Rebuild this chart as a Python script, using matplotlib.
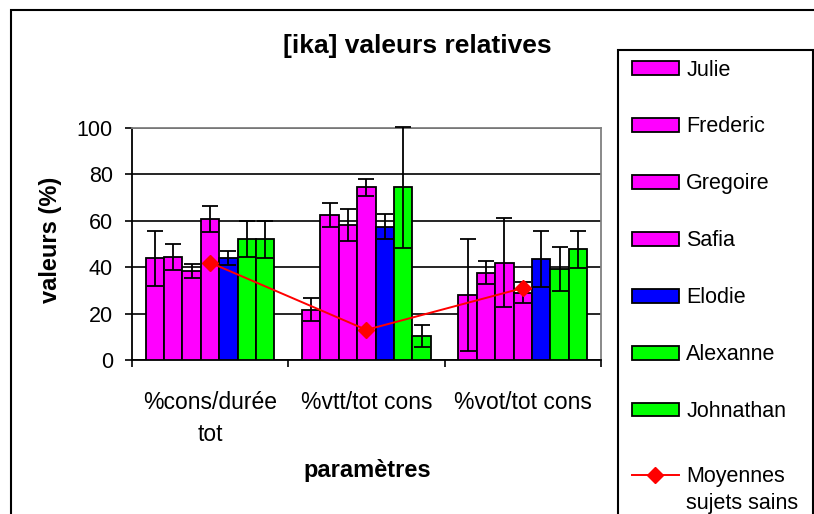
import matplotlib.pyplot as plt
from matplotlib.patches import Rectangle, Patch
from matplotlib.lines import Line2D
from matplotlib.legend_handler import HandlerLine2D
import numpy as np

plt.rcParams['font.family'] = ['Liberation Sans', 'DejaVu Sans']

# donnees
parametres = ["%cons/durée\ntot", "%vtt/tot cons", "%vot/tot cons"]
sujets = ["Julie", "Frederic", "Gregoire", "Safia", "Elodie", "Alexanne", "Johnathan"]
couleurs = ["#FF00FF", "#FF00FF", "#FF00FF", "#FF00FF", "#0000FF", "#00FF00", "#00FF00"]

julie = [43.8, 21.6, 28.0]
frederic = [44.5, 62.5, 37.6]
gregoire = [38.4, 58.2, 42.0]
safia = [60.8, 74.4, 29.0]
elodie = [43.8, 57.5, 43.5]
alexanne = [52.0, 74.4, 39.2]
johnathan = [52.0, 10.3, 47.8]

err_julie = [12.0, 5.0, 24.0]
err_frederic = [5.5, 5.0, 5.0]
err_gregoire = [3.0, 7.0, 19.0]
err_safia = [5.5, 3.5, 4.5]
err_elodie = [3.0, 5.5, 12.0]
err_alexanne = [7.7, 26.0, 9.5]
err_johnathan = [8.0, 4.7, 8.0]

moyennes = [42.0, 13.0, 31.0]

valeurs = [julie, frederic, gregoire, safia, elodie, alexanne, johnathan]
erreurs = [err_julie, err_frederic, err_gregoire, err_safia, err_elodie, err_alexanne, err_johnathan]


class HandlerHaut(HandlerLine2D):
    # place la ligne de legende sur la premiere ligne du texte
    def create_artists(self, legend, orig_handle, xdescent, ydescent, width, height, fontsize, trans):
        arts = super().create_artists(legend, orig_handle, xdescent, ydescent, width, height, fontsize, trans)
        for a in arts:
            a.set_ydata(np.asarray(a.get_ydata()) + 0.76 * fontsize)
        return arts


W, H = 814, 514
fig = plt.figure(figsize=(W / 100, H / 100), dpi=100)
ax = fig.add_axes([131.7 / W, 1 - 360 / H, (601 - 131.7) / W, (360 - 128) / H])

x = np.arange(1, len(parametres) + 1)
w = 1 / 8.5
handles = []
for i in range(len(sujets)):
    pos = x + (i - 3) * w
    ax.bar(pos, valeurs[i], width=w, color=couleurs[i], edgecolor='black', linewidth=1.3, zorder=3)
    eb = ax.errorbar(pos, valeurs[i], yerr=erreurs[i], fmt='none', ecolor='black',
                     elinewidth=1.3, capsize=6, capthick=1.3, zorder=4)
    for art in eb.lines[1] + eb.lines[2]:
        art.set_clip_on(False)
    handles.append(Patch(facecolor=couleurs[i], edgecolor='black', linewidth=1.3, label=sujets[i]))

ax.plot(x, moyennes, color='red', linewidth=1.4, marker='D', markersize=8, zorder=5)
moy_handle = Line2D([], [], color='red', linewidth=1.4, marker='D', markersize=8,
                    label="Moyennes\nsujets sains")

ax.set_xlim(0.5, 3.5)
ax.set_ylim(0, 100)
ax.set_yticks([0, 20, 40, 60, 80, 100])
ax.yaxis.grid(True, color='black', linewidth=1.2, zorder=0)
ax.set_axisbelow(True)
ax.set_xticks(x)
ax.set_xticklabels(parametres, fontsize=16.5, linespacing=1.5)
ax.set_xticks([0.5, 1.5, 2.5, 3.5], minor=True)
ax.tick_params(axis='x', which='major', length=0, pad=22)
ax.tick_params(axis='x', which='minor', length=5, width=1.2, direction='out')
ax.tick_params(axis='y', length=5, width=1.2, pad=8.5, labelsize=15.5)
for s in ['left', 'bottom']:
    ax.spines[s].set_color('black')
    ax.spines[s].set_linewidth(1.3)
for s in ['top', 'right']:
    ax.spines[s].set_color('#808080')
    ax.spines[s].set_linewidth(1.3)

fig.text(417 / W, 1 - 53.5 / H, "[ika] valeurs relatives", fontsize=19, fontweight='bold',
         ha='center', va='baseline')
fig.text(367 / W, 1 - 477 / H, "paramètres", fontsize=17, fontweight='bold',
         ha='center', va='baseline')
fig.text(50 / W, 1 - 240 / H, "valeurs (%)", fontsize=17, fontweight='bold',
         rotation=90, ha='center', va='center')

# cadres
fig.patches.append(Rectangle((11 / W, -0.1), 1.2, 1 - 10 / H + 0.1, transform=fig.transFigure,
                             fill=False, edgecolor='black', linewidth=1.5, clip_on=False))
fig.patches.append(Rectangle((618 / W, -0.1), (812.5 - 618) / W, 1 - 50 / H + 0.1,
                             transform=fig.transFigure, facecolor='white',
                             edgecolor='black', linewidth=1.5, clip_on=False))

opts = dict(loc='upper left', frameon=False, fontsize=15.5, handlelength=2.2, handleheight=0.6,
            handletextpad=0.33, labelspacing=1.67, borderaxespad=0, borderpad=0)
fig.legend(handles=handles, bbox_to_anchor=(631.7 / W, 1 - 59.5 / H), **opts)
leg2 = fig.legend(handles=[moy_handle], bbox_to_anchor=(631.7 / W, 1 - 466 / H),
                  handler_map={moy_handle: HandlerHaut()}, **opts)
leg2.get_texts()[0].set_linespacing(1.4)

fig.savefig("out.png", dpi=100)
